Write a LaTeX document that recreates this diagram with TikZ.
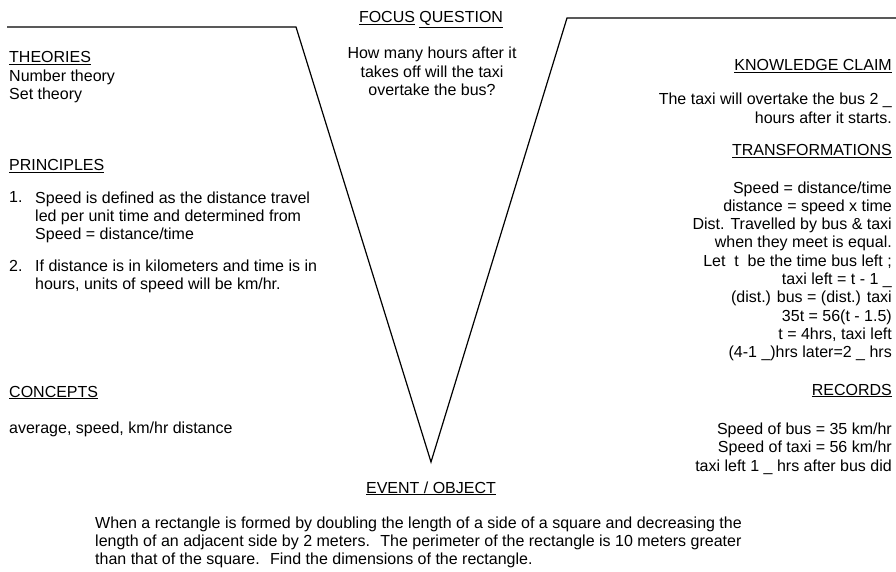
\documentclass[tikz,border=0pt]{standalone}
\usepackage{fontspec}
\setmainfont{Liberation Sans}
\usepackage{tikz}

\newcommand{\vfont}{\fontsize{16}{18.3}\selectfont}
\newcommand{\uhead}[1]{\underline{#1}}

\tikzset{
  txt/.style={font=\vfont, inner sep=0pt},
  lefttxt/.style={txt, anchor=base west, align=left},
  righttxt/.style={txt, anchor=base east, align=right},
  midtxt/.style={txt, anchor=base, align=center},
  vline/.style={line width=1.2pt}
}

\begin{document}
\begin{tikzpicture}[x=1pt,y=-1pt]
      \useasboundingbox (0,0) rectangle (896,572);

      % the V
      \coordinate (lstart) at (7,27);
      \coordinate (ltop) at (296,27);
      \coordinate (tip) at (431,462);
      \coordinate (rtop) at (567,18);
      \coordinate (rend) at (896,18);
      \draw[vline] (lstart) -- (ltop) -- (tip) -- (rtop) -- (rend);

      % centre (base = last line)
      \node[midtxt] (focus) at (431,23) {\uhead{FOCUS} \uhead{QUESTION}};
      \node[midtxt] (question) at (432,95.6) {How many hours after it\\takes off will the taxi\\overtake the bus?};

      % left side
      \node[lefttxt] (theories) at (9,63) {\uhead{THEORIES}};
      \node[lefttxt] (theorylist) at (9,99.6) {Number theory\\Set theory};
      \node[lefttxt] (principles) at (9,171) {\uhead{PRINCIPLES}};
      \node[lefttxt] (p1num) at (9,203) {1.};
      \node[lefttxt] (p1) at (35,239.6) {Speed is defined as the distance travel\\led per unit time and determined from\\Speed = distance/time};
      \node[lefttxt] (p2num) at (9,271) {2.};
      \node[lefttxt] (p2) at (35,289.3) {If distance is in kilometers and time is in\\hours, units of speed will be km/hr.};
      \node[lefttxt] (concepts) at (9,397) {\uhead{CONCEPTS}};
      \node[lefttxt] (conceptlist) at (9,433) {average, speed, km/hr distance};

      % right side
      \node[righttxt] (claimhead) at (892,71) {\uhead{KNOWLEDGE CLAIM}};
      \node[righttxt] (claim) at (892,123.3) {The taxi will overtake the bus 2 \_\\hours after it starts.};
      \node[righttxt] (transhead) at (892,156) {\uhead{TRANSFORMATIONS}};
      \node[righttxt] (trans) at (892,357.7) {Speed = distance/time\\distance = speed x time\\Dist. Travelled by bus \& taxi\\when they meet is equal.\\Let~ t~ be the time bus left ;\\taxi left = t - 1 \_\\(dist.) bus = (dist.) taxi\\35t = 56(t - 1.5)\\t = 4hrs, taxi left\\(4-1 \_)hrs later=2 \_ hrs};
      \node[righttxt] (recordhead) at (892,395) {\uhead{RECORDS}};
      \node[righttxt] (records) at (892,471.1) {Speed of bus = 35 km/hr\\Speed of taxi = 56 km/hr\\taxi left 1 \_ hrs after bus did};

      % bottom
      \node[midtxt] (eventhead) at (431,493) {\uhead{EVENT / OBJECT}};
      \node[lefttxt] (event) at (95,564.6) {When a rectangle is formed by doubling the length of a side of a square and decreasing the\\length of an adjacent side by 2 meters.~ The perimeter of the rectangle is 10 meters greater\\than that of the square.~ Find the dimensions of the rectangle.};
    \end{tikzpicture}
\end{document}
